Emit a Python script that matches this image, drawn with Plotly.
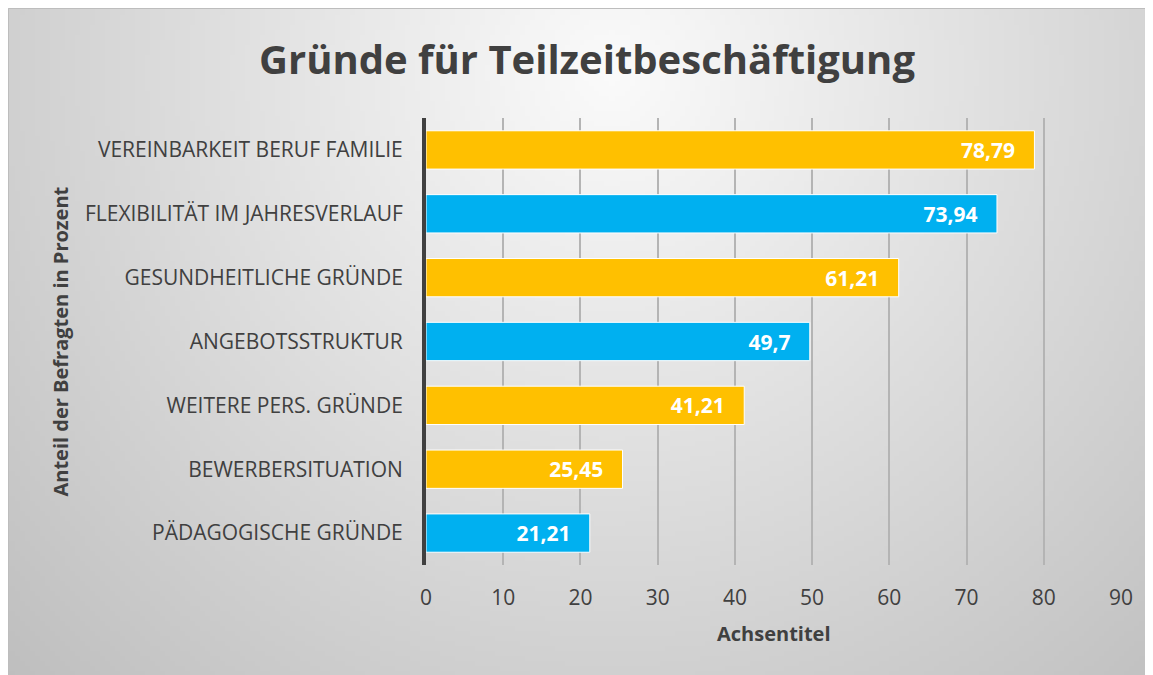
import base64, struct, zlib
import numpy as np
import plotly.graph_objects as go

# ---- data ----
categories = [
    "VEREINBARKEIT BERUF FAMILIE",
    "FLEXIBILITÄT IM JAHRESVERLAUF",
    "GESUNDHEITLICHE GRÜNDE",
    "ANGEBOTSSTRUKTUR",
    "WEITERE PERS. GRÜNDE",
    "BEWERBERSITUATION",
    "PÄDAGOGISCHE GRÜNDE",
]
values = [78.79, 73.94, 61.21, 49.7, 41.21, 25.45, 21.21]
groups = ["gold", "blue", "gold", "blue", "gold", "gold", "blue"]
x_ticks = [0, 10, 20, 30, 40, 50, 60, 70, 80, 90]

title_text = "Gründe für Teilzeitbeschäftigung"
x_title = "Achsentitel"
y_title = "Anteil der Befragten in Prozent"

# ---- style ----
palette = {"gold": "#FFC000", "blue": "#00B0F0"}
bar_colors = [palette[g] for g in groups]
labels = [(("%g" % v).replace(".", ",")) + "\u00a0\u00a0\u00a0" for v in values]

W, H = 1153, 675
ML, MR, MT, MB = 418, 40, 110, 118
PW, PH = W - ML - MR, H - MT - MB


def px_x(p):
    return (p - ML) / PW


def px_y(p):
    return (H - MB - p) / PH


# radial gradient background image (PNG, grayscale)
def gradient_png(w, h, scale):
    yy, xx = np.mgrid[0:h, 0:w].astype(float)
    X = xx * scale
    Y = yy * scale
    d = np.sqrt((X - 602) ** 2 + (Y - 62) ** 2)
    v = 251 - 60 * (d / 850.0)
    v = np.clip(v, 185, 252).astype(np.uint8)
    raw = b"".join(b"\x00" + v[r].tobytes() for r in range(h))

    def chunk(tag, data):
        c = struct.pack(">I", len(data)) + tag + data
        return c + struct.pack(">I", zlib.crc32(tag + data) & 0xFFFFFFFF)

    png = b"\x89PNG\r\n\x1a\n"
    png += chunk(b"IHDR", struct.pack(">IIBBBBB", w, h, 8, 0, 0, 0, 0))
    png += chunk(b"IDAT", zlib.compress(raw, 9))
    png += chunk(b"IEND", b"")
    return "data:image/png;base64," + base64.b64encode(png).decode()


img_src = gradient_png(231, 135, 5)

fig = go.Figure()
fig.add_trace(go.Bar(
    x=values,
    y=categories,
    orientation="h",
    marker=dict(color=bar_colors, line=dict(color="white", width=1)),
    text=labels,
    textposition="inside",
    insidetextanchor="end",
    textfont=dict(family="Open Sans", size=21, color="white", weight="bold"),
    cliponaxis=False,
    hoverinfo="skip",
))

fig.update_layout(
    width=W, height=H,
    margin=dict(l=ML, r=MR, t=MT, b=MB, pad=0),
    paper_bgcolor="#d8d8d8",
    plot_bgcolor="rgba(0,0,0,0)",
    bargap=0.4,
    showlegend=False,
    font=dict(family="Open Sans", color="#404040"),
    title=dict(
        text=title_text, x=579 / W, xanchor="center",
        y=1 - 52 / H, yanchor="middle",
        font=dict(family="Open Sans", size=40, color="#404040", weight="bold"),
    ),
    xaxis=dict(
        range=[0, 90], tickvals=x_ticks, showgrid=True,
        gridcolor="#b4b4b4", gridwidth=2, zeroline=False, showline=False,
        tickfont=dict(size=21, color="#404040"), ticks="",
        ticklabelstandoff=18, fixedrange=True,
    ),
    yaxis=dict(
        autorange="reversed", showgrid=False, zeroline=False,
        showline=True, linecolor="#404040", linewidth=4,
        tickfont=dict(size=21, color="#404040"), ticks="",
        ticklabelstandoff=15, fixedrange=True,
    ),
    images=[dict(
        source=img_src, xref="paper", yref="paper",
        x=px_x(0), y=px_y(0), sizex=W / PW, sizey=H / PH,
        xanchor="left", yanchor="top", sizing="stretch", layer="below",
    )],
    shapes=[dict(
        type="rect", xref="paper", yref="paper",
        x0=px_x(0.5), x1=px_x(W + 2), y0=px_y(H + 2), y1=px_y(0.5),
        line=dict(color="#bdbdbd", width=1), layer="below",
    )],
    annotations=[
        dict(text=x_title, xref="paper", yref="paper", x=0.5, y=px_y(625),
             xanchor="center", yanchor="middle", showarrow=False,
             font=dict(size=20, color="#404040", weight="bold")),
        dict(text=y_title, xref="paper", yref="paper", x=px_x(52), y=0.5,
             xanchor="center", yanchor="middle", showarrow=False, textangle=-90,
             font=dict(size=20, color="#404040", weight="bold")),
    ],
)

fig.write_html(
    "out.html",
    post_script=(
        "document.documentElement.style.overflow='hidden';"
        "document.body.style.overflow='hidden';"
    ),
)
